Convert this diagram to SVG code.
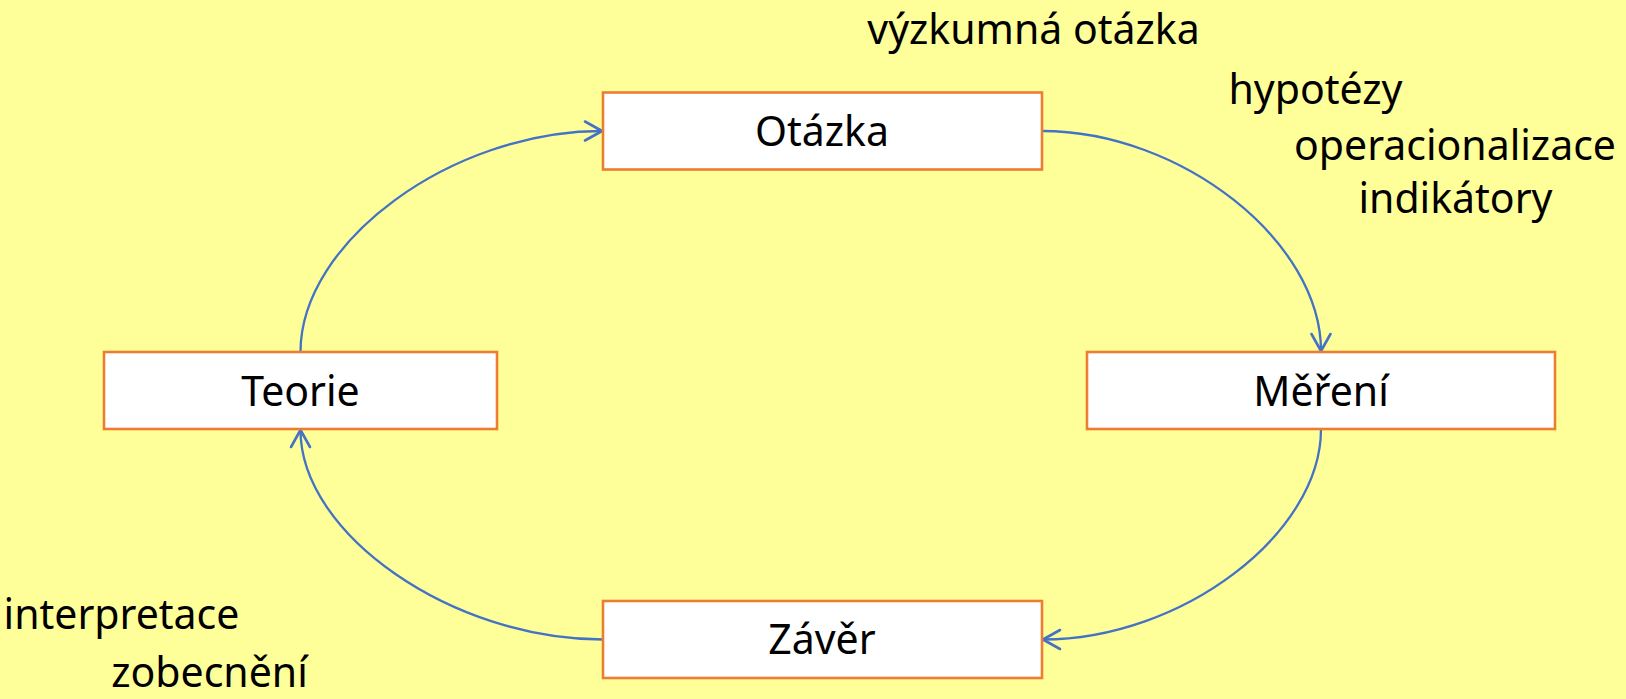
<svg xmlns="http://www.w3.org/2000/svg" width="1626" height="699" viewBox="0 0 1626 699">
<style>
.box{fill:#FFFFFF;stroke:#ED7D31;stroke-width:2.6}
.t{font-family:"Noto Sans","Open Sans","Liberation Sans",sans-serif;font-size:41px;fill:#000000}
.c{text-anchor:middle}
.con{fill:none;stroke:#4472C4;stroke-width:2.3}
</style>
<defs>
<marker id="arr" viewBox="-22 -13 26 26" refX="0" refY="0" markerWidth="26" markerHeight="26" markerUnits="userSpaceOnUse" orient="auto">
<path d="M-17,-9.5 L0,0 L-17,9.5" fill="none" stroke="#4472C4" stroke-width="2.6" stroke-linecap="round" stroke-linejoin="round"/>
</marker>
</defs>
<rect x="0" y="0" width="1626" height="699" fill="#FFFF99"/>
<g id="connectors">
<path class="con" marker-end="url(#arr)" d="M1042,131 C1181.5,131 1321,241.5 1321,351"/>
<path class="con" marker-end="url(#arr)" d="M1321,429 C1321,534 1181.5,639.5 1043,639.5"/>
<path class="con" marker-end="url(#arr)" d="M603,639.5 C451.75,639.5 300.5,534 300.5,430"/>
<path class="con" marker-end="url(#arr)" d="M300.5,352 C300.5,241.5 451.75,131 602,131"/>
</g>
<g id="otazka">
<rect class="box" x="603" y="92.5" width="439" height="77"/>
<text class="t c" x="822" y="146">Otázka</text>
</g>
<g id="teorie">
<rect class="box" x="104" y="352" width="393" height="77"/>
<text class="t c" x="300.5" y="406">Teorie</text>
</g>
<g id="mereni">
<rect class="box" x="1087" y="352" width="468" height="77"/>
<text class="t c" x="1321" y="406">Měření</text>
</g>
<g id="zaver">
<rect class="box" x="603" y="601" width="439" height="77"/>
<text class="t c" x="822" y="654">Závěr</text>
</g>
<g id="labels">
<text class="t c" x="1033.5" y="44">výzkumná otázka</text>
<text class="t c" x="1315.5" y="104">hypotézy</text>
<text class="t c" x="1455" y="160">operacionalizace</text>
<text class="t c" x="1455.5" y="213">indikátory</text>
<text class="t c" x="121.5" y="629">interpretace</text>
<text class="t c" x="209.5" y="687">zobecnění</text>
</g>
</svg>
